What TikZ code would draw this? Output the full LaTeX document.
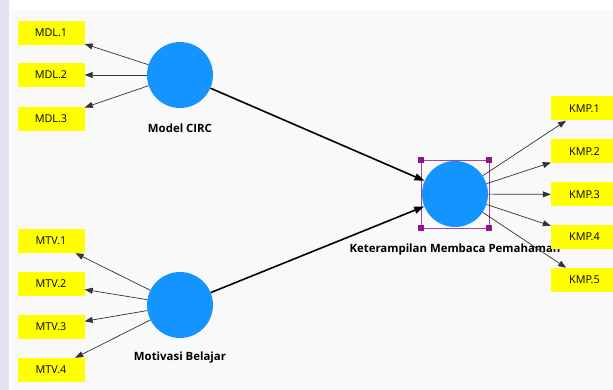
\documentclass[tikz,border=0pt]{standalone}
\usepackage{fontspec}
\setmainfont{Open Sans}
\usetikzlibrary{arrows.meta,positioning}

\definecolor{lvblue}{RGB}{20,148,255}
\definecolor{indyellow}{RGB}{255,255,0}
\definecolor{panelgray}{RGB}{249,249,249}
\definecolor{selpurple}{RGB}{140,20,140}
\definecolor{stripe}{RGB}{226,226,242}

\tikzset{
  latent/.style={circle, fill=lvblue, minimum size=66pt, inner sep=0pt},
  ind/.style={fill=indyellow, minimum width=67pt, minimum height=24pt, inner sep=0pt,
    font=\fontsize{10.8}{12}\selectfont},
  lvlabel/.style={font=\fontsize{11.4}{13}\selectfont\bfseries, inner sep=0pt},
  load/.style={draw=black!80, line width=0.7pt, -{Triangle[length=8pt,width=6pt]}},
  path/.style={draw=black, line width=1.6pt, -{Triangle[length=10pt,width=7pt]}},
  selbox/.style={draw=selpurple!80, line width=0.7pt, minimum size=68pt, inner sep=0pt},
  handle/.style={fill=selpurple, minimum size=6pt, inner sep=0pt}
}

\begin{document}
\begin{tikzpicture}[x=1pt,y=-1pt]
  \useasboundingbox (0,0) rectangle (613,390);
  % background panel
  \fill[stripe] (0,0) rectangle (9,390);
  \fill[panelgray] (12,10) rectangle (613,390);

  % latent variables
  \node[latent] (circ) at (180,75) {};
  \node[latent] (motiv) at (180,305) {};
  \node[latent] (kmp) at (455,194) {};
  \node[lvlabel] (circlab) at (180,128) {Model CIRC};
  \node[lvlabel] (motivlab) at (180,358) {Motivasi Belajar};
  \node[lvlabel] (kmplab) at (455,249.5) {Keterampilan Membaca Pemahaman};

  % selection frame
  \node[selbox] (sel) at (kmp) {};
  \foreach \c in {north west,north east,south west,south east}
    \node[handle] at (sel.\c) {};

  % indicators
  \foreach \i/\y in {1/33,2/75,3/119}
    \node[ind] (mdl\i) at (51,\y) {MDL.\i};
  \foreach \i/\y in {1/241,2/284,3/327,4/370}
    \node[ind] (mtv\i) at (51,\y) {MTV.\i};
  \foreach \i/\y in {1/108.5,2/151.5,3/194.5,4/237,5/280}
    \node[ind] (kmp\i) at (584.5,\y) {KMP.\i};

  % outer loadings
  \foreach \i in {1,2,3}
    \draw[load] (circ) -- (mdl\i);
  \foreach \i in {1,...,4}
    \draw[load] (motiv) -- (mtv\i);
  \foreach \i in {1,...,5}
    \draw[load] (kmp) -- (kmp\i);

  % structural paths
  \draw[path] (circ) -- (kmp);
  \draw[path] (motiv) -- (kmp);
\end{tikzpicture}
\end{document}
